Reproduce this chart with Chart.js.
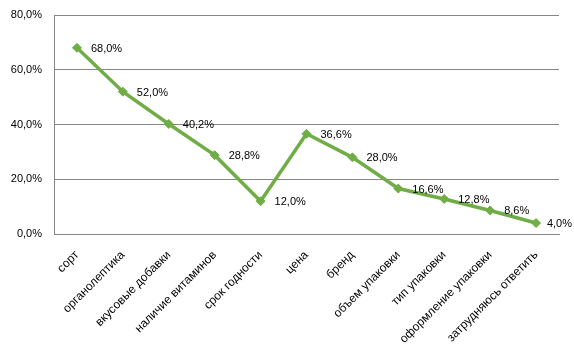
<!DOCTYPE html>
<html>
<head>
<meta charset="utf-8">
<script src="https://cdn.jsdelivr.net/npm/chart.js@4/dist/chart.umd.min.js"></script>
<style>
html,body{margin:0;padding:0;background:#fff;}
#wrap{width:574px;height:354px;position:relative;}
</style>
</head>
<body>
<div id="wrap"><canvas id="c" width="574" height="354"></canvas></div>
<script>
const categories = ["сорт","органолептика","вкусовые добавки","наличие витаминов","срок годности","цена","бренд","объем упаковки","тип упаковки","оформление упаковки","затрудняюсь ответить"];
const values = [68.0, 52.0, 40.2, 28.8, 12.0, 36.6, 28.0, 16.6, 12.8, 8.6, 4.0];
const yTicks = [0, 20, 40, 60, 80];

const fmt = v => v.toFixed(1).replace('.', ',') + '%';
const FONT = "'Liberation Sans', Arial, sans-serif";

const labelPlugin = {
  id: 'dataLabels',
  afterDatasetsDraw(chart) {
    const ctx = chart.ctx;
    const meta = chart.getDatasetMeta(0);
    ctx.save();
    ctx.font = "11px " + FONT;
    ctx.fillStyle = '#000';
    ctx.textAlign = 'left';
    ctx.textBaseline = 'middle';
    meta.data.forEach((pt, i) => {
      const t = fmt(values[i]);
      const w = ctx.measureText(t).width;
      let x = pt.x + 14;
      if (x + w > chart.width - 2) x = chart.width - 2 - w;
      ctx.fillText(t, x, pt.y + 1);
    });
    ctx.restore();
  }
};

new Chart(document.getElementById('c'), {
  type: 'line',
  data: {
    labels: categories,
    datasets: [{
      data: values,
      borderColor: '#70AD47',
      backgroundColor: '#70AD47',
      borderWidth: 3.5,
      pointStyle: 'rectRot',
      pointRadius: 4.5,
      pointBorderWidth: 1,
      pointBackgroundColor: '#70AD47',
      pointBorderColor: '#70AD47',
      tension: 0,
      fill: false
    }]
  },
  options: {
    responsive: false,
    animation: false,
    devicePixelRatio: 1,
    layout: { padding: { left: 0, right: 15, top: 15, bottom: 0 } },
    plugins: { legend: { display: false }, tooltip: { enabled: false } },
    scales: {
      x: {
        offset: true,
        grid: { display: false, drawTicks: false },
        border: { display: true, color: '#868686', width: 1 },
        ticks: {
          color: '#000',
          font: { family: FONT, size: 12 },
          minRotation: 45,
          maxRotation: 45,
          autoSkip: false,
          padding: 14
        },
        afterFit(scale) { scale.height = 120; scale.paddingLeft = 0; scale.paddingRight = 0; }
      },
      y: {
        min: 0,
        max: 80,
        afterBuildTicks(scale) { scale.ticks = yTicks.map(v => ({ value: v })); },
        grid: { color: '#868686', lineWidth: 1, drawTicks: false },
        border: { display: true, color: '#868686', width: 1 },
        ticks: {
          color: '#000',
          font: { family: FONT, size: 11 },
          padding: 12,
          callback: v => fmt(v)
        },
        afterFit(scale) { scale.width = 54; scale.paddingTop = 0; scale.paddingBottom = 0; }
      }
    }
  },
  plugins: [labelPlugin]
});
</script>
</body>
</html>
